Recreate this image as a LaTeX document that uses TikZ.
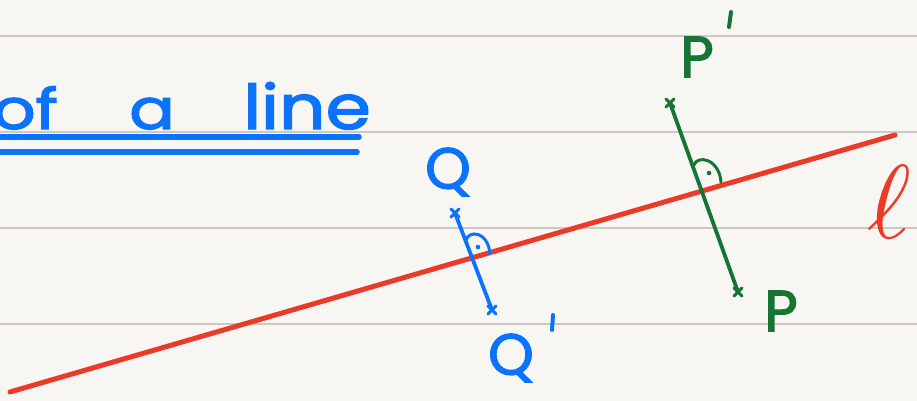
\documentclass[tikz,border=0pt]{standalone}
\usepackage{fontspec}
\setmainfont[FakeBold=2.2]{Poppins}
\definecolor{paper}{RGB}{248,246,242}
\definecolor{rulec}{RGB}{205,200,194}
\definecolor{ublue}{RGB}{10,115,250}
\definecolor{lred}{RGB}{234,58,40}
\definecolor{pgreen}{RGB}{22,116,52}
\tikzset{
  ruleline/.style={rulec, line width=1.2pt},
  pen/.style={line width=5pt, line cap=round, line join=round},
  thinpen/.style={line width=3.8pt, line cap=round, line join=round},
  lbl/.style={inner sep=0pt, font=\fontsize{58}{60}\selectfont},
  ttl/.style={inner sep=0pt, anchor=base, color=ublue, font=\fontsize{56}{58}\selectfont},
  endpt/.style={inner sep=0pt, minimum size=0pt}
}
\begin{document}
\begin{tikzpicture}[x=1pt,y=-1pt]
\useasboundingbox (0,0) rectangle (917,401);
\fill[paper] (0,0) rectangle (917,401);
\foreach \yy in {36,132,228,324} \draw[ruleline] (0,\yy) -- (917,\yy);
\clip (0,0) rectangle (917,401);
% title
\node[ttl, anchor=base east, xscale=1.2] (wof) at (58,129) {of};
\node[ttl, xscale=1.2] (wa) at (152,129) {a};
\node[ttl, anchor=base west, xscale=1.3, yscale=1.1] (wline) at (243,129) {line};
\draw[ublue, line width=5.5pt, line cap=round] (-5,137) -- (359,137);
\draw[ublue, line width=5.5pt, line cap=round] (-5,152) -- (357,152);
% line l
\coordinate (l1) at (10,392);
\coordinate (l2) at (895,135);
\draw[lred, pen] (l1) -- (l2);
\node[inner sep=0pt, lred, scale=10.5] (ell) at (889,202) {$\ell$};
% blue segment
\node[endpt] (Q) at (455,213) {};
\node[endpt] (Qp) at (492,310) {};
\draw[ublue, thinpen] (Q) -- (Qp);
\foreach \n in {Q,Qp}{
  \draw[ublue, line width=3pt, line cap=round] ([shift={(-4,-4)}]\n.center) -- ([shift={(4,4)}]\n.center);
  \draw[ublue, line width=3pt, line cap=round] ([shift={(-4,4)}]\n.center) -- ([shift={(4,-4)}]\n.center);
}
\coordinate (qa) at (466,240);
\coordinate (qb) at (490,254);
\draw[ublue, line width=3pt, line cap=round] (qa) .. controls (469,230) and (488,231) .. (qb);
\fill[ublue] (478,247) circle (2.3);
\node[lbl, ublue] (Qlab) at (448,172) {Q};
\node[lbl, ublue] (Qplab) at (511,358) {Q};
\draw[ublue, line width=4pt, line cap=round] (553,315) -- (552,330);
% green segment
\node[endpt] (Pp) at (670,103) {};
\node[endpt] (P) at (738,292) {};
\draw[pgreen, thinpen] (Pp) -- (P);
\foreach \n in {Pp,P}{
  \draw[pgreen, line width=3pt, line cap=round] ([shift={(-4,-4)}]\n.center) -- ([shift={(4,4)}]\n.center);
  \draw[pgreen, line width=3pt, line cap=round] ([shift={(-4,4)}]\n.center) -- ([shift={(4,-4)}]\n.center);
}
\coordinate (pa) at (694,165);
\coordinate (pb) at (721,182);
\draw[pgreen, line width=3pt, line cap=round] (pa) .. controls (697,155) and (719,158) .. (pb);
\fill[pgreen] (709,173) circle (2.3);
\node[lbl, pgreen] (Pplab) at (697,57) {P};
\draw[pgreen, line width=4pt, line cap=round] (731,12) -- (729,27);
\node[lbl, pgreen] (Plab) at (781,311) {P};
\end{tikzpicture}
\end{document}
